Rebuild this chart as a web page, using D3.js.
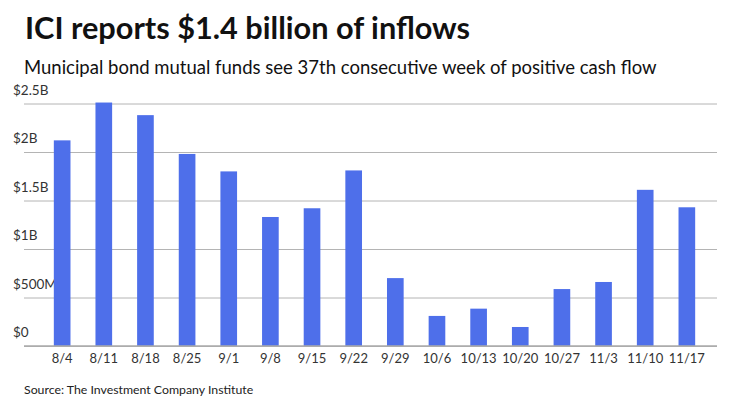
<!DOCTYPE html>
<html>
<head>
<meta charset="utf-8">
<script src="https://cdn.jsdelivr.net/npm/d3@7"></script>
<style>
  body { margin: 0; background: #fff; font-family: Lato, "Open Sans", sans-serif; }
  .grid line { stroke: #b4b4b4; stroke-width: 1; }
  .grid path { display: none; }
</style>
</head>
<body>
<div id="chart"></div>
<script>
// Données
const weeks = ["8/4", "8/11", "8/18", "8/25", "9/1", "9/8", "9/15", "9/22",
               "9/29", "10/6", "10/13", "10/20", "10/27", "11/3", "11/10", "11/17"]
const inflows = [2.12, 2.51, 2.38, 1.98, 1.80, 1.33, 1.42, 1.81,
                 0.70, 0.31, 0.385, 0.196, 0.587, 0.66, 1.61, 1.43]
const yTicks = [0, 0.5, 1, 1.5, 2, 2.5]
const yTickLabels = ["$0", "$500M", "$1B", "$1.5B", "$2B", "$2.5B"]

const width = 740, height = 416

const svg = d3.select("#chart")
    .append("svg")
    .attr("width", width)
    .attr("height", height)

// Titre et sous-titre
svg.append("text")
    .attr("x", 25)
    .attr("y", 39)
    .style("font-size", "30.7px")
    .style("font-weight", "bold")
    .style("fill", "#111")
    .text("ICI reports $1.4 billion of inflows")

svg.append("text")
    .attr("x", 24)
    .attr("y", 74)
    .style("font-size", "18.5px")
    .style("fill", "#111")
    .text("Municipal bond mutual funds see 37th consecutive week of positive cash flow")

// Échelles
const x = d3.scaleBand()
    .domain(weeks)
    .range([33, 716])
    .paddingInner(0.6)
    .paddingOuter(0.5)

const y = d3.scaleLinear()
    .domain([0, 2.5])
    .range([346, 103.5])

// Grille
svg.append("g")
    .attr("class", "grid")
    .attr("transform", "translate(24,0)")
    .call(d3.axisLeft(y).tickValues(yTicks).tickSize(-693).tickFormat(""))

// Étiquettes de l'axe Y (au-dessus des lignes)
svg.selectAll(".ylab")
    .data(yTicks)
    .enter().append("text")
    .attr("class", "ylab")
    .attr("x", 13)
    .attr("y", d => y(d) - 9)
    .style("font-size", "13.5px")
    .style("fill", "#333")
    .text((d, i) => yTickLabels[i])

// Barres
svg.selectAll(".bar")
    .data(inflows)
    .enter().append("rect")
    .attr("class", "bar")
    .attr("x", (d, i) => x(weeks[i]))
    .attr("y", d => y(d))
    .attr("width", x.bandwidth())
    .attr("height", d => y(0) - y(d))
    .style("fill", "#4e6fea")

// Axe X
const xAxis = svg.append("g")
    .attr("transform", "translate(0," + y(0) + ")")
    .call(d3.axisBottom(x).tickSize(0).tickPadding(8))
xAxis.select(".domain").remove()
xAxis.selectAll("text")
    .style("font-family", "Lato, sans-serif")
    .style("font-size", "13px")
    .style("fill", "#333")

svg.append("line")
    .attr("x1", 24).attr("x2", 717)
    .attr("y1", y(0)).attr("y2", y(0))
    .style("stroke", "#aaa")
    .style("stroke-width", 1.5)

// Source
svg.append("text")
    .attr("x", 24)
    .attr("y", 394)
    .style("font-size", "12.3px")
    .style("fill", "#222")
    .text("Source: The Investment Company Institute")
</script>
</body>
</html>
